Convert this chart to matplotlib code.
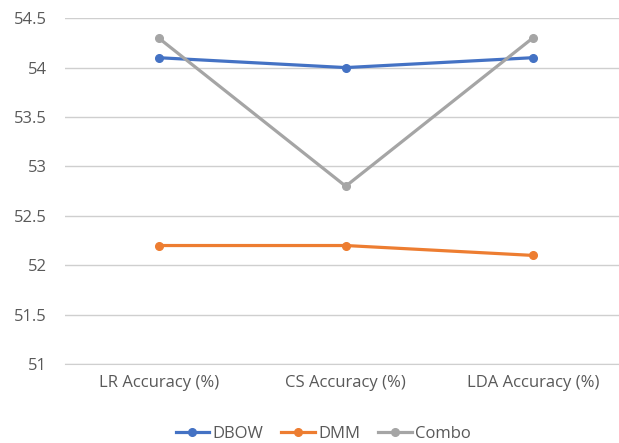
import matplotlib
matplotlib.use("Agg")
import matplotlib.pyplot as plt

categories = ["LR Accuracy (%)", "CS Accuracy (%)", "LDA Accuracy (%)"]
dbow = [54.1, 54.0, 54.1]
dmm = [52.2, 52.2, 52.1]
combo = [54.3, 52.8, 54.3]
yticks = [51, 51.5, 52, 52.5, 53, 53.5, 54, 54.5]
yticklabels = ["51", "51.5", "52", "52.5", "53", "53.5", "54", "54.5"]

plt.rcParams['font.family'] = ['Open Sans', 'DejaVu Sans']

fig = plt.figure(figsize=(6.19, 4.43), dpi=100)
ax = fig.add_axes([0.105, 0.178, 0.907, 0.781])

x = range(len(categories))
ax.plot(x, dbow, color="#4472C4", lw=2.3, marker="o", ms=5.5, label="DBOW", zorder=3)
ax.plot(x, dmm, color="#ED7D31", lw=2.3, marker="o", ms=5.5, label="DMM", zorder=3)
ax.plot(x, combo, color="#A5A5A5", lw=2.3, marker="o", ms=5.5, label="Combo", zorder=3)

ax.set_xlim(-0.5, 2.5)
ax.set_ylim(51, 54.5)
ax.set_yticks(yticks)
ax.set_yticklabels(yticklabels)
ax.set_xticks(list(x))
ax.set_xticklabels(categories)
ax.grid(axis="y", color="#CFCFCF", lw=1)
ax.set_axisbelow(True)
for s in ["top", "right", "left"]:
    ax.spines[s].set_visible(False)
ax.spines["bottom"].set_color("#CFCFCF")
ax.tick_params(axis="both", length=0, colors="#595959", labelsize=12)
ax.tick_params(axis="y", pad=13)
ax.tick_params(axis="x", pad=8)

ax.legend(loc="upper center", bbox_to_anchor=(0.46, -0.135), ncol=3, frameon=False,
          fontsize=12, labelcolor="#595959", handlelength=2.0, handletextpad=0.2,
          columnspacing=1.1)

fig.savefig("out.png", dpi=100)
